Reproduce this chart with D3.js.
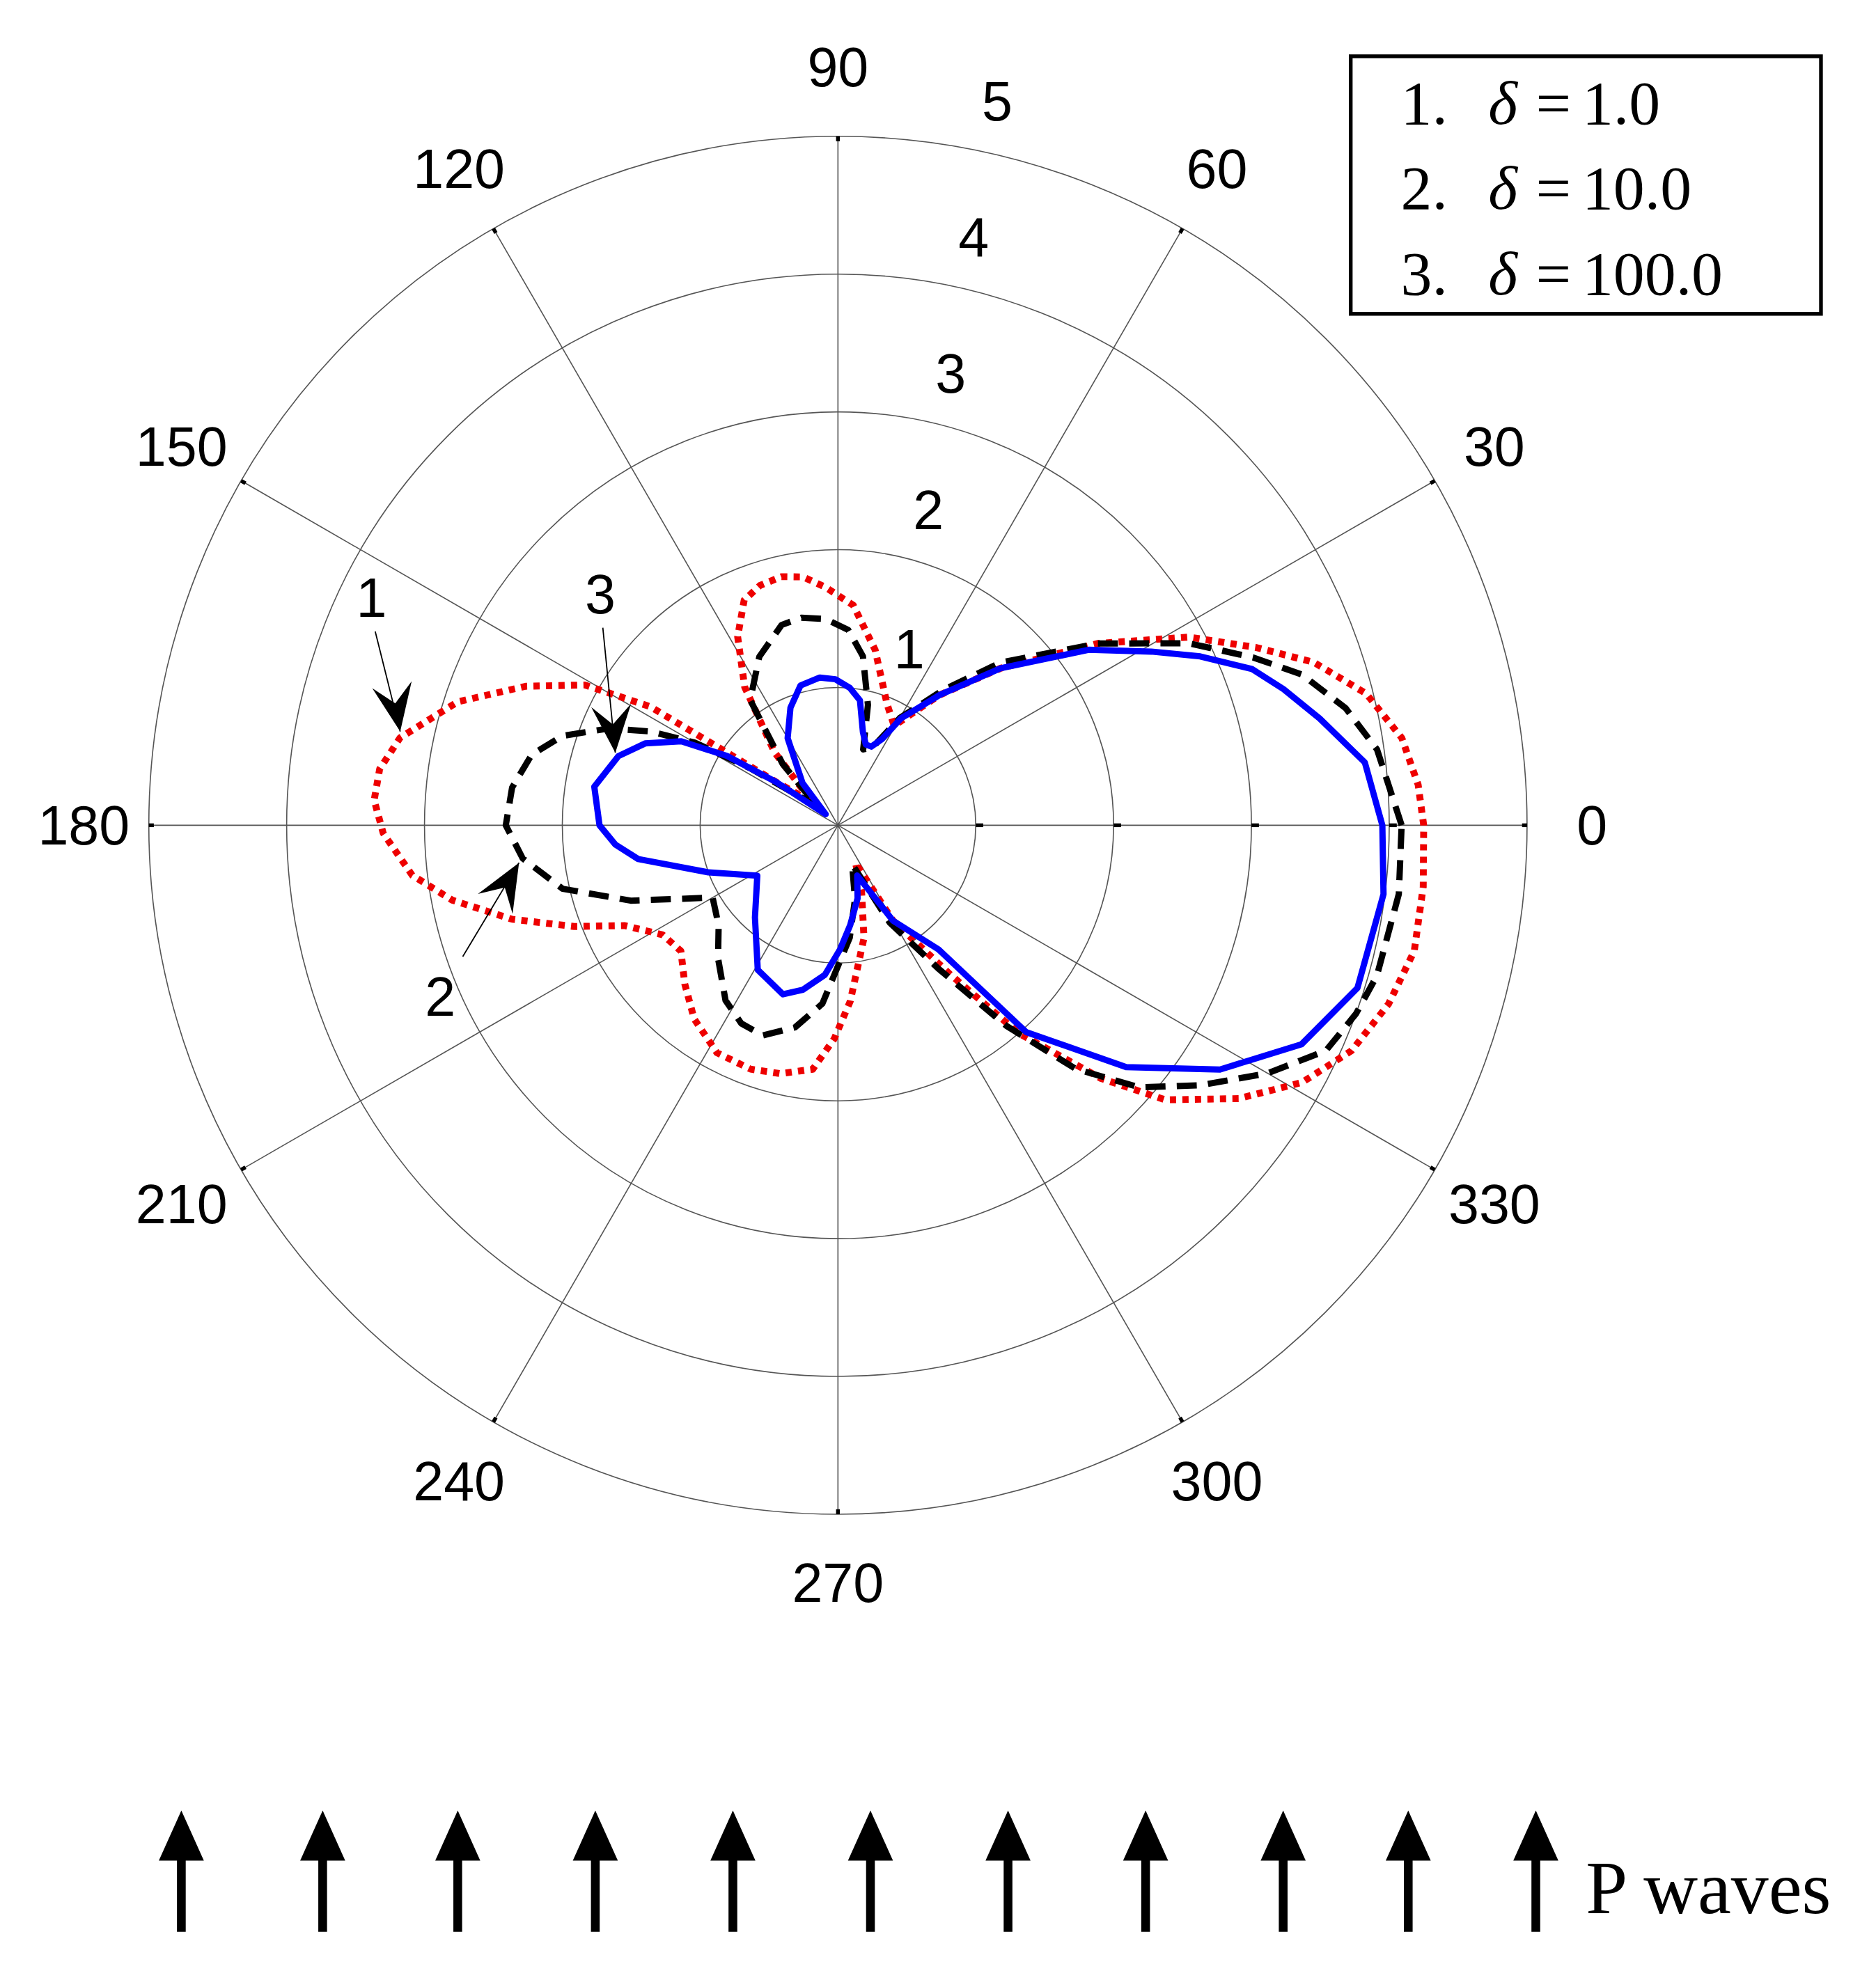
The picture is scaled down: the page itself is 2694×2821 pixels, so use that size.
<!DOCTYPE html>
<html><head><meta charset="utf-8">
<script src="https://cdn.jsdelivr.net/npm/d3@7"></script>
<style>body{margin:0;background:#fff}</style></head>
<body><svg id="c"></svg>
<script>
// [angle (deg, CCW from east), radius]
const curve3 = [[0,3.95],[6.8,3.85],[12.5,3.58],[17,3.38],[20.7,3.21],[25,2.9],[29,2.6],[35,2.22],[44,1.64],[52,1.2],[59.5,0.9],[63,0.7],[67,0.62],[71,0.62],[75,0.7],[80,0.92],[85,1.0],[91,1.06],[97,1.08],[105,1.05],[112,0.92],[120,0.73],[130,0.4],[138,0.12],[145,0.55],[148,0.95],[151.8,1.29],[157,1.52],[162.5,1.67],[171,1.79],[180,1.73],[185,1.62],[189.6,1.47],[200,1.0],[212,0.69],[228,0.9],[241,1.2],[252,1.29],[258,1.22],[265,1.09],[271,0.9],[277,0.73],[285,0.55],[291,0.39],[300,0.8],[309,1.16],[312.3,2.03],[320,2.73],[327.4,3.29],[334.7,3.72],[342.6,3.95],[352.8,3.99]];
const curve2 = [[0,4.09],[8,3.95],[13,3.78],[18,3.54],[22,3.25],[27.4,2.87],[35,2.3],[45,1.67],[52,1.25],[60,0.9],[66,0.62],[71.6,0.58],[76,0.9],[81.6,1.24],[87,1.42],[93.5,1.5],[100,1.53],[105.7,1.51],[115,1.35],[125,1.11],[132,0.6],[138,0.2],[147,0.76],[150,1.2],[153.4,1.52],[157,1.8],[162,2.1],[167,2.28],[173.4,2.38],[180,2.41],[186,2.3],[193,2.05],[200,1.6],[210,1.05],[220,1.13],[228,1.3],[237.3,1.51],[244,1.6],[250.3,1.62],[258,1.5],[265,1.3],[276,0.82],[283,0.55],[290,0.3],[298,0.8],[305,1.27],[310,1.9],[314.3,2.47],[319,2.9],[324.4,3.24],[330,3.6],[335.2,3.9],[340,4.0],[344.4,4.06],[353,4.1]];
const curve1 = [[0,4.25],[4,4.22],[8.8,4.14],[14,3.95],[18.9,3.65],[23,3.3],[28.2,2.89],[35,2.3],[44,1.64],[52,1.2],[60.6,0.83],[68,0.95],[78,1.3],[86,1.6],[93,1.73],[98,1.82],[102.8,1.85],[108,1.83],[112.6,1.77],[118,1.55],[124,1.21],[131,0.7],[138,0.25],[145,0.55],[147.7,1.61],[151,2.1],[156,2.48],[162,2.9],[168.7,3.24],[173,3.35],[176.9,3.37],[181,3.3],[186.7,3.11],[191,2.85],[196.1,2.46],[201,2.05],[205.2,1.71],[212,1.5],[218.7,1.46],[226,1.6],[233.4,1.75],[242,1.87],[250.3,1.88],[257,1.85],[264.1,1.78],[269,1.55],[274,1.28],[283,0.84],[290,0.5],[295,0.3],[300,0.8],[307,1.36],[311,2.0],[316.1,2.65],[320,3.1],[325.7,3.52],[331,3.85],[336.3,4.07],[342,4.2],[347.7,4.28],[354,4.27]];
const angleTicks = [0,30,60,90,120,150,180,210,240,270,300,330];
const radialTicks = [1,2,3,4,5];
const legendItems = [["1.","1.0"],["2.","10.0"],["3.","100.0"]];
const arrowX = [145,258,366,476,586,696,806,916,1026,1126,1228];

const W=1500,H=1570.7;
const svg=d3.select("#c").attr("width",2694).attr("height",2821).attr("viewBox",`0 0 ${W} ${H}`);
const cx=670,cy=660;
const r=d3.scaleLinear().domain([0,5]).range([0,551]);
const g=svg.append("g").attr("transform",`translate(${cx},${cy})`);
const rad=d=>d*Math.PI/180;

// grid
radialTicks.forEach(t=>g.append("circle").attr("r",r(t)).attr("fill","none").attr("stroke","#555").attr("stroke-width",0.9));
angleTicks.forEach(a=>{
  g.append("line").attr("x1",0).attr("y1",0).attr("x2",r(5)*Math.cos(rad(a))).attr("y2",-r(5)*Math.sin(rad(a))).attr("stroke","#555").attr("stroke-width",0.9);
  const rr=r(5)+ (a%180===0?52:55);
  g.append("text").attr("x",rr*Math.cos(rad(a))).attr("y",-rr*Math.sin(rad(a))).attr("text-anchor","middle").attr("dominant-baseline","central")
   .attr("font-family","Arial, Liberation Sans").attr("font-size",44).text(a);
  g.append("line").attr("x1",(r(5)-4)*Math.cos(rad(a))).attr("y1",-(r(5)-4)*Math.sin(rad(a))).attr("x2",r(5)*Math.cos(rad(a))).attr("y2",-r(5)*Math.sin(rad(a))).attr("stroke","#000").attr("stroke-width",3);
});
radialTicks.slice(0,4).forEach(t=>g.append("line").attr("x1",r(t)).attr("x2",r(t)+6).attr("y1",0).attr("y2",0).attr("stroke","#000").attr("stroke-width",3));
radialTicks.forEach(t=>{
  const a=rad(80-12/t), rr=r(t+0.38);
  g.append("text").attr("x",rr*Math.cos(a)).attr("y",-rr*Math.sin(a)).attr("text-anchor","middle").attr("dominant-baseline","central")
   .attr("font-family","Arial, Liberation Sans").attr("font-size",44).text(t);
});

const line=d3.lineRadial().angle(d=>rad(90-d[0])).radius(d=>r(d[1])).curve(d3.curveLinearClosed);
g.append("path").datum(curve1).attr("d",line).attr("fill","none").attr("stroke","#e00").attr("stroke-width",5.5).attr("stroke-dasharray","5,5").attr("stroke-linejoin","round");
g.append("path").datum(curve2).attr("d",line).attr("fill","none").attr("stroke","#000").attr("stroke-width",5).attr("stroke-dasharray","16,9").attr("stroke-linejoin","round");
g.append("path").datum(curve3).attr("d",line).attr("fill","none").attr("stroke","#00f").attr("stroke-width",5).attr("stroke-linejoin","round");

// annotations
const ann=svg.append("g");
function arrowHead(x,y,ang){
  const a=rad(ang), L=38, Wd=16;
  const bx=x-L*Math.cos(a), by=y-L*Math.sin(a);
  const nx=-Math.sin(a), ny=Math.cos(a);
  const mx=x-L*0.6*Math.cos(a), my=y-L*0.6*Math.sin(a);
  ann.append("path").attr("d",`M${x},${y}L${bx+nx*Wd},${by+ny*Wd}L${mx},${my}L${bx-nx*Wd},${by-ny*Wd}Z`).attr("fill","#000");
}
[[297,478,"1",[300,505,320,585],80],[480,475,"3",[482,502,492,602],85],[352,797,"2",[370,765,415,690],-60]].forEach(([tx,ty,s,l,ang])=>{
  ann.append("text").attr("x",tx).attr("y",ty).attr("text-anchor","middle").attr("dominant-baseline","central").attr("font-family","Arial, Liberation Sans").attr("font-size",44).text(s);
  ann.append("line").attr("x1",l[0]).attr("y1",l[1]).attr("x2",l[2]).attr("y2",l[3]).attr("stroke","#000").attr("stroke-width",1);
  arrowHead(l[2],l[3],ang);
});

// legend
const lg=svg.append("g");
lg.append("rect").attr("x",1080).attr("y",45).attr("width",376).attr("height",206).attr("fill","#fff").attr("stroke","#000").attr("stroke-width",3);
legendItems.forEach((d,i)=>{
  const y=82+i*68;
  const t=lg.append("text").attr("y",y).attr("dominant-baseline","central").attr("font-family","Liberation Serif, Times New Roman, serif").attr("font-size",50);
  t.append("tspan").attr("x",1120).text(d[0]);
  t.append("tspan").attr("x",1190).attr("font-style","italic").text("δ");
  t.append("tspan").attr("x",1228).text("=");
  t.append("tspan").attr("x",1265).text(d[1]);
});

// P waves
const pw=svg.append("g");
arrowX.forEach(x=>{
  pw.append("line").attr("x1",x).attr("x2",x).attr("y1",1545).attr("y2",1480).attr("stroke","#000").attr("stroke-width",7);
  pw.append("path").attr("d",`M${x},1448L${x-18},1488L${x+18},1488Z`).attr("fill","#000");
});
pw.append("text").attr("x",1268).attr("y",1530).attr("font-family","Liberation Serif, Times New Roman, serif").attr("font-size",60).text("P waves");
</script></body></html>
